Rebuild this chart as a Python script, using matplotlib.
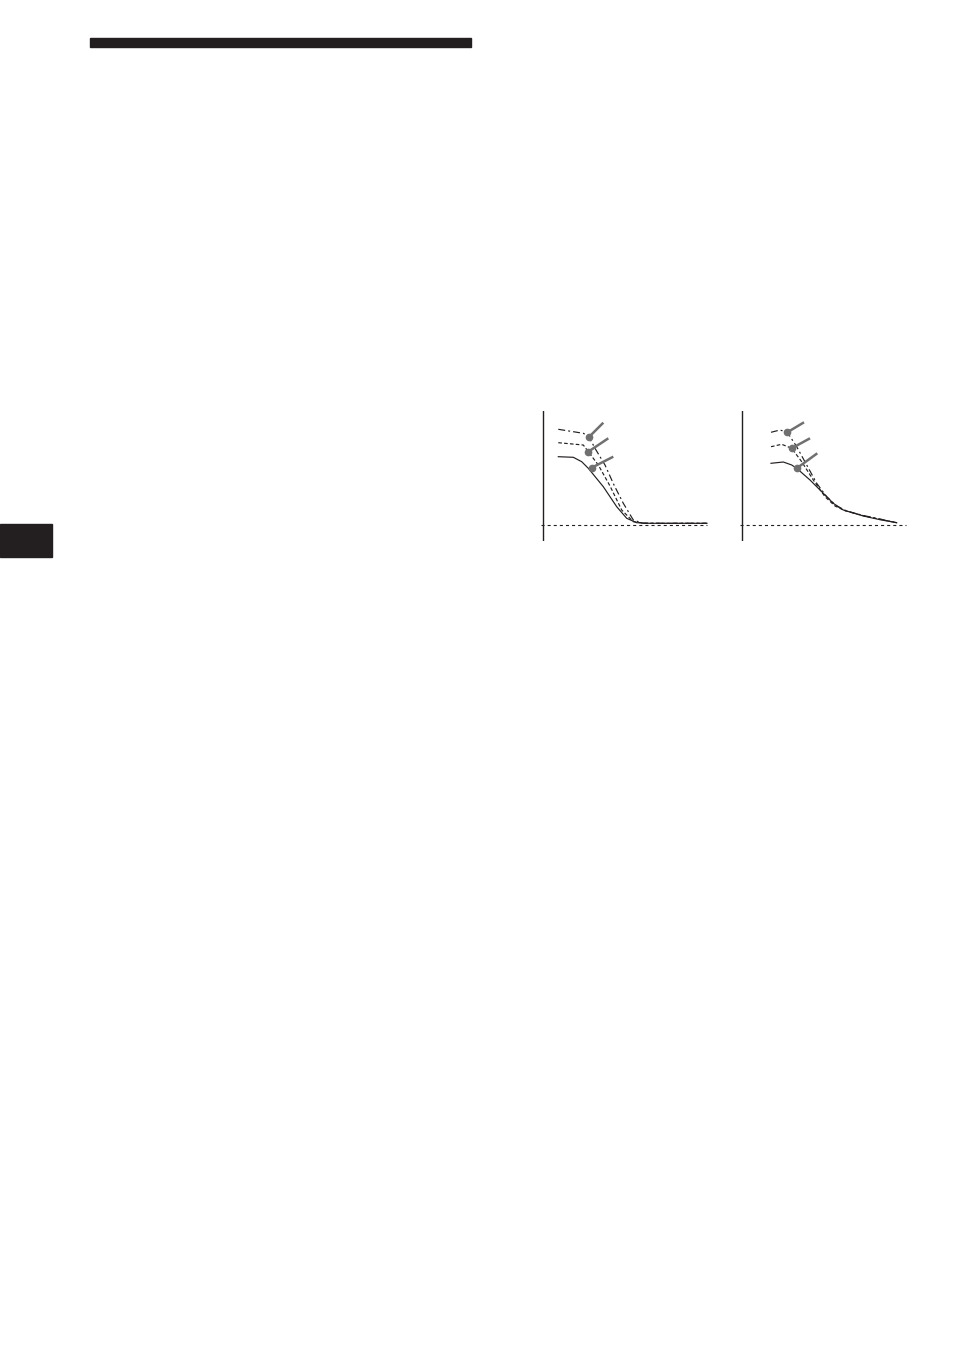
import matplotlib
matplotlib.use("Agg")
import matplotlib.pyplot as plt
from matplotlib.patches import Rectangle

plt.rcParams['lines.scale_dashes'] = False

# ---- data (x = frequency position, y = level above baseline) ----
# Left chart
left_top_x = [17.3, 42.3, 47.3, 55, 64, 73, 82.3, 92.3, 102, 166]
left_top_y = [96, 92, 89.3, 75.3, 60.3, 40.3, 22, 5.3, 2, 2]
left_mid_x = [17.3, 42.3, 47.3, 57.3, 69, 80.7, 92.3, 104, 166]
left_mid_y = [82.6, 80.3, 73.6, 60.3, 39.3, 15.3, 3.6, 2, 2]
left_low_x = [17.3, 32.3, 40.7, 47.3, 62.3, 75.7, 85.7, 95.7, 109, 166]
left_low_y = [68.6, 68, 63.6, 57, 38.6, 18.6, 7, 2.6, 2, 2]
left_knob_x = [(48.3, 62.3), (47.3, 67.3), (50.7, 72.3)]
left_knob_y = [(88.6, 102.6), (73.6, 87), (57.6, 68.6)]

# Right chart
right_top_x = [33, 42, 49.3, 58.7, 68.7, 78.7, 88.7, 98.7, 108.7, 125.3, 142, 158.7]
right_top_y = [93, 95.3, 93, 78.6, 60.3, 42, 28.6, 19.3, 14.3, 9.8, 6.3, 2.6]
right_mid_x = [33, 43.7, 53.7, 63.7, 75.3, 87, 97, 107, 125.3, 142, 158.7]
right_mid_y = [78.6, 81, 77, 63.6, 45.3, 28.6, 19.3, 14.6, 9.6, 6, 2.6]
right_low_x = [33, 45.3, 53.7, 58.7, 72, 85.3, 95.3, 105.3, 125.3, 142, 158.7]
right_low_y = [62, 63.3, 60.3, 57, 45.3, 32, 22, 15.3, 9.3, 5.6, 2.6]
right_knob_x = [(49.3, 66), (53.7, 72), (58.7, 79.3)]
right_knob_y = [(93, 103), (77, 87), (57, 72)]

baseline_level = 0
left_baseline_span = (0, 166)
right_baseline_span = (2, 168)
left_axis_x = 2
right_axis_x = 4.3

W, H = 954, 1355
fig = plt.figure(figsize=(W / 100, H / 100), dpi=100)
fig.patch.set_facecolor('white')

INK = '#231f20'
GRAY = '#707070'

# decorative page elements
fig.patches.append(Rectangle((90 / W, 1 - 47 / H), 381 / W, 9 / H,
                             transform=fig.transFigure, color=INK, zorder=1))
fig.patches.append(Rectangle((0, 1 - 557 / H), 52 / W, 33 / H,
                             transform=fig.transFigure, color=INK, zorder=1))


def make_axes(left_px):
    ax = fig.add_axes([left_px / W, 1 - 541 / H, 170 / W, 130 / H])
    ax.set_xlim(0, 170)
    ax.set_ylim(-15.7, 114.3)
    ax.axis('off')
    return ax


def draw(ax, top, mid, low, kx, ky, span, axis_x):
    ax.axvline(axis_x, color=INK, lw=1.0)
    ax.plot(span, [baseline_level, baseline_level], color=INK, lw=0.8,
            dashes=(2.2, 2.2))
    ax.plot(top[0], top[1], color=INK, lw=0.85, dashes=(5, 2.2, 1.4, 2.2))
    ax.plot(mid[0], mid[1], color=INK, lw=0.85, dashes=(2.6, 1.6))
    ax.plot(low[0], low[1], color=INK, lw=0.85)
    for xs, ys in zip(kx, ky):
        ax.plot(xs, ys, color=GRAY, lw=1.8, solid_capstyle='butt', zorder=5)
        ax.plot(xs[0], ys[0], 'o', color=GRAY, ms=4.5, zorder=6)


axL = make_axes(541)
draw(axL, (left_top_x, left_top_y), (left_mid_x, left_mid_y),
     (left_low_x, left_low_y), left_knob_x, left_knob_y,
     left_baseline_span, left_axis_x)

axR = make_axes(738)
draw(axR, (right_top_x, right_top_y), (right_mid_x, right_mid_y),
     (right_low_x, right_low_y), right_knob_x, right_knob_y,
     right_baseline_span, right_axis_x)

fig.savefig('out.png', dpi=100, facecolor='white')
